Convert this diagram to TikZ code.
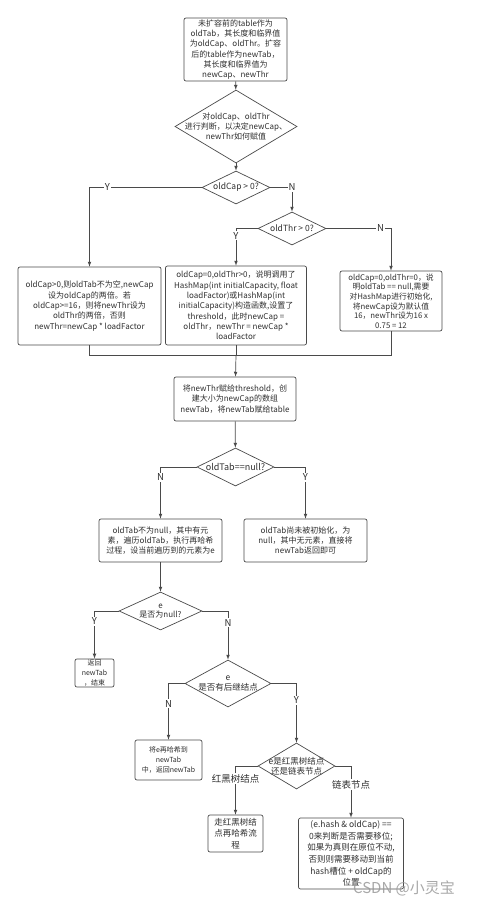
\documentclass[tikz,border=0pt]{standalone}
\usepackage{fontspec}
\setmainfont{Noto Sans CJK SC}
\usetikzlibrary{shapes.geometric}
\definecolor{linegray}{HTML}{4A4A4A}
\definecolor{textgray}{HTML}{2E2E2E}

\begin{document}
\begin{tikzpicture}[
        x=1pt, y=-1pt, % координаты в пикселях, ось y вниз
        cell/.style={draw=linegray, line width=0.7pt, rounded corners=2pt, align=center, inner sep=1pt,
            text=textgray, font=\fontsize{8}{10.3}\selectfont}, % прямоугольные блоки
        rule/.style={diamond, draw=linegray, line width=0.7pt, inner sep=0pt}, % ромбы условий
        rtext/.style={align=center, text=textgray, font=\fontsize{8}{10}\selectfont},
        kant/.style={fill=white, inner sep=1pt, text=textgray, font=\fontsize{9.5}{10}\selectfont},
        link/.style={draw=linegray, line width=0.7pt, -latex},
    ]
    \useasboundingbox (0,0) rectangle (484,907);

    \node[cell, minimum width=103, minimum height=63] (start) at (235.5,49.5)
        {未扩容前的table作为\\oldTab，其长度和临界值\\为oldCap、oldThr。扩容\\后的table作为newTab，\\其长度和临界值为\\newCap、newThr};
    \node[rule, minimum width=122, minimum height=73,
        label={[rtext]center:对oldCap、oldThr\\进行判断，以决定newCap、\\newThr如何赋值}] (judge) at (236,126.5) {};
    \node[rule, minimum width=68, minimum height=33,
        label={[rtext, font=\fontsize{8.5}{10}\selectfont]center:oldCap > 0?}] (capq) at (236,187.5) {};
    \node[rule, minimum width=68, minimum height=33,
        label={[rtext, font=\fontsize{8.5}{10}\selectfont]center:oldThr > 0?}] (thrq) at (292,228.5) {};

    \node[cell, minimum width=143, minimum height=78] (capbig) at (89.5,306)
        {oldCap>0,则oldTab不为空,newCap\\设为oldCap的两倍。若\\oldCap>=16，则将newThr设为\\oldThr的两倍，否则\\newThr=newCap * loadFactor};
    \node[cell, minimum width=141, minimum height=79] (thrbig) at (236,305.5)
        {oldCap=0,oldThr>0，说明调用了\\HashMap(int initialCapacity, float\\loadFactor)或HashMap(int\\initialCapacity)构造函数,设置了\\threshold，此时newCap =\\oldThr，newThr = newCap *\\loadFactor};
    \node[cell, minimum width=102, minimum height=60, inner sep=0.5pt, font=\fontsize{7.8}{9.6}\selectfont] (bothzero) at (391,301)
        {oldCap=0,oldThr=0，说\\明oldTab == null,需要\\对HashMap进行初始化,\\将newCap设为默认值\\16，newThr设为16 x\\0.75 = 12};
    \coordinate (join) at (236,355);

    \node[cell, minimum width=122, minimum height=44] (newtab) at (235,399)
        {将newThr赋给threshold，创\\建大小为newCap的数组\\newTab，将newTab赋给table};
    \node[rule, minimum width=77, minimum height=38,
        label={[rtext, font=\fontsize{9}{10}\selectfont]center:oldTab==null?}] (nullq) at (235.5,467) {};

    \node[cell, minimum width=123, minimum height=43] (rehash) at (160.5,540.5)
        {oldTab不为null，其中有元\\素，遍历oldTab，执行再哈希\\过程，设当前遍历到的元素为e};
    \node[cell, minimum width=123, minimum height=43] (retnew) at (305.5,540.5)
        {oldTab尚未被初始化，为\\null，其中无元素，直接将\\newTab返回即可};

    \node[rule, minimum width=83, minimum height=38,
        label={[rtext, font=\fontsize{8}{9.3}\selectfont]center:e\\是否为null?}] (eq) at (160.5,611) {};
    \node[cell, minimum width=39, minimum height=28, font=\fontsize{7}{9.8}\selectfont] (finish) at (94.5,673)
        {返回\\newTab\\，结束};
    \node[rule, minimum width=86, minimum height=47,
        label={[rtext, font=\fontsize{8.5}{10}\selectfont]center:e\\是否有后继结点}] (nextq) at (228,683.5) {};
    \node[cell, minimum width=67, minimum height=40, font=\fontsize{7}{10}\selectfont] (single) at (168.5,760)
        {将e再哈希到\\newTab\\中，返回newTab};
    \node[rule, minimum width=77, minimum height=46,
        label={[rtext, font=\fontsize{8.5}{10}\selectfont]center:e是红黑树结点\\还是链表节点}] (treeq) at (296.5,766) {};
    \node[cell, minimum width=55, minimum height=37, font=\fontsize{8.5}{11.5}\selectfont] (treenode) at (235.5,833.5)
        {走红黑树结\\点再哈希流\\程};
    \node[cell, minimum width=105, minimum height=71, font=\fontsize{8.5}{11.6}\selectfont] (listnode) at (351,853.5)
        {(e.hash \& oldCap) ==\\0来判断是否需要移位;\\如果为真则在原位不动,\\否则则需要移动到当前\\hash槽位 + oldCap的\\位置};

    % связи
    \draw[link] (start) -- (judge);
    \draw[link] (judge) -- (capq);
    \draw[link] (capq.west) -| node[kant, pos=0.42] {Y} (capbig.north);
    \draw[link] (capq.east) -| node[kant, pos=0.5] {N} (thrq.north);
    \draw[link] (thrq.west) -| node[kant, pos=0.6] {Y} (thrbig.north);
    \draw[link] (thrq.east) -| node[kant, pos=0.42] {N} (bothzero.north);
    \draw[draw=linegray, line width=0.7pt] (capbig.south) |- (join);
    \draw[draw=linegray, line width=0.7pt] (bothzero.south) |- (join);
    \draw[draw=linegray, line width=0.7pt] (thrbig.south) -- (join);
    \draw[link] (join) -- (newtab);
    \draw[link] (newtab) -- (nullq);
    \draw[link] (nullq.west) -| node[kant, pos=0.6] {N} (rehash.north);
    \draw[link] (nullq.east) -| node[kant, pos=0.6] {Y} (retnew.north);
    \draw[link] (rehash) -- (eq);
    \draw[link] (eq.west) -| node[kant, pos=0.61] {Y} (finish.north);
    \draw[link] (eq.east) -| node[kant, pos=0.62] {N} (nextq.north);
    \draw[link] (nextq.west) -| node[kant, pos=0.68] {N} (single.north);
    \draw[link] (nextq.east) -| node[kant, pos=0.64] {Y} (treeq.north);
    \draw[link] (treeq.west) -| node[kant, pos=0.63] {红黑树结点} (treenode.north);
    \draw[link] (treeq.east) -| node[kant, pos=0.68] {链表节点} (listnode.north);

    \node[text=black!40, opacity=0.85, font=\fontsize{15}{16}\selectfont] (mark) at (404,888) {CSDN @小灵宝};
\end{tikzpicture}
\end{document}
